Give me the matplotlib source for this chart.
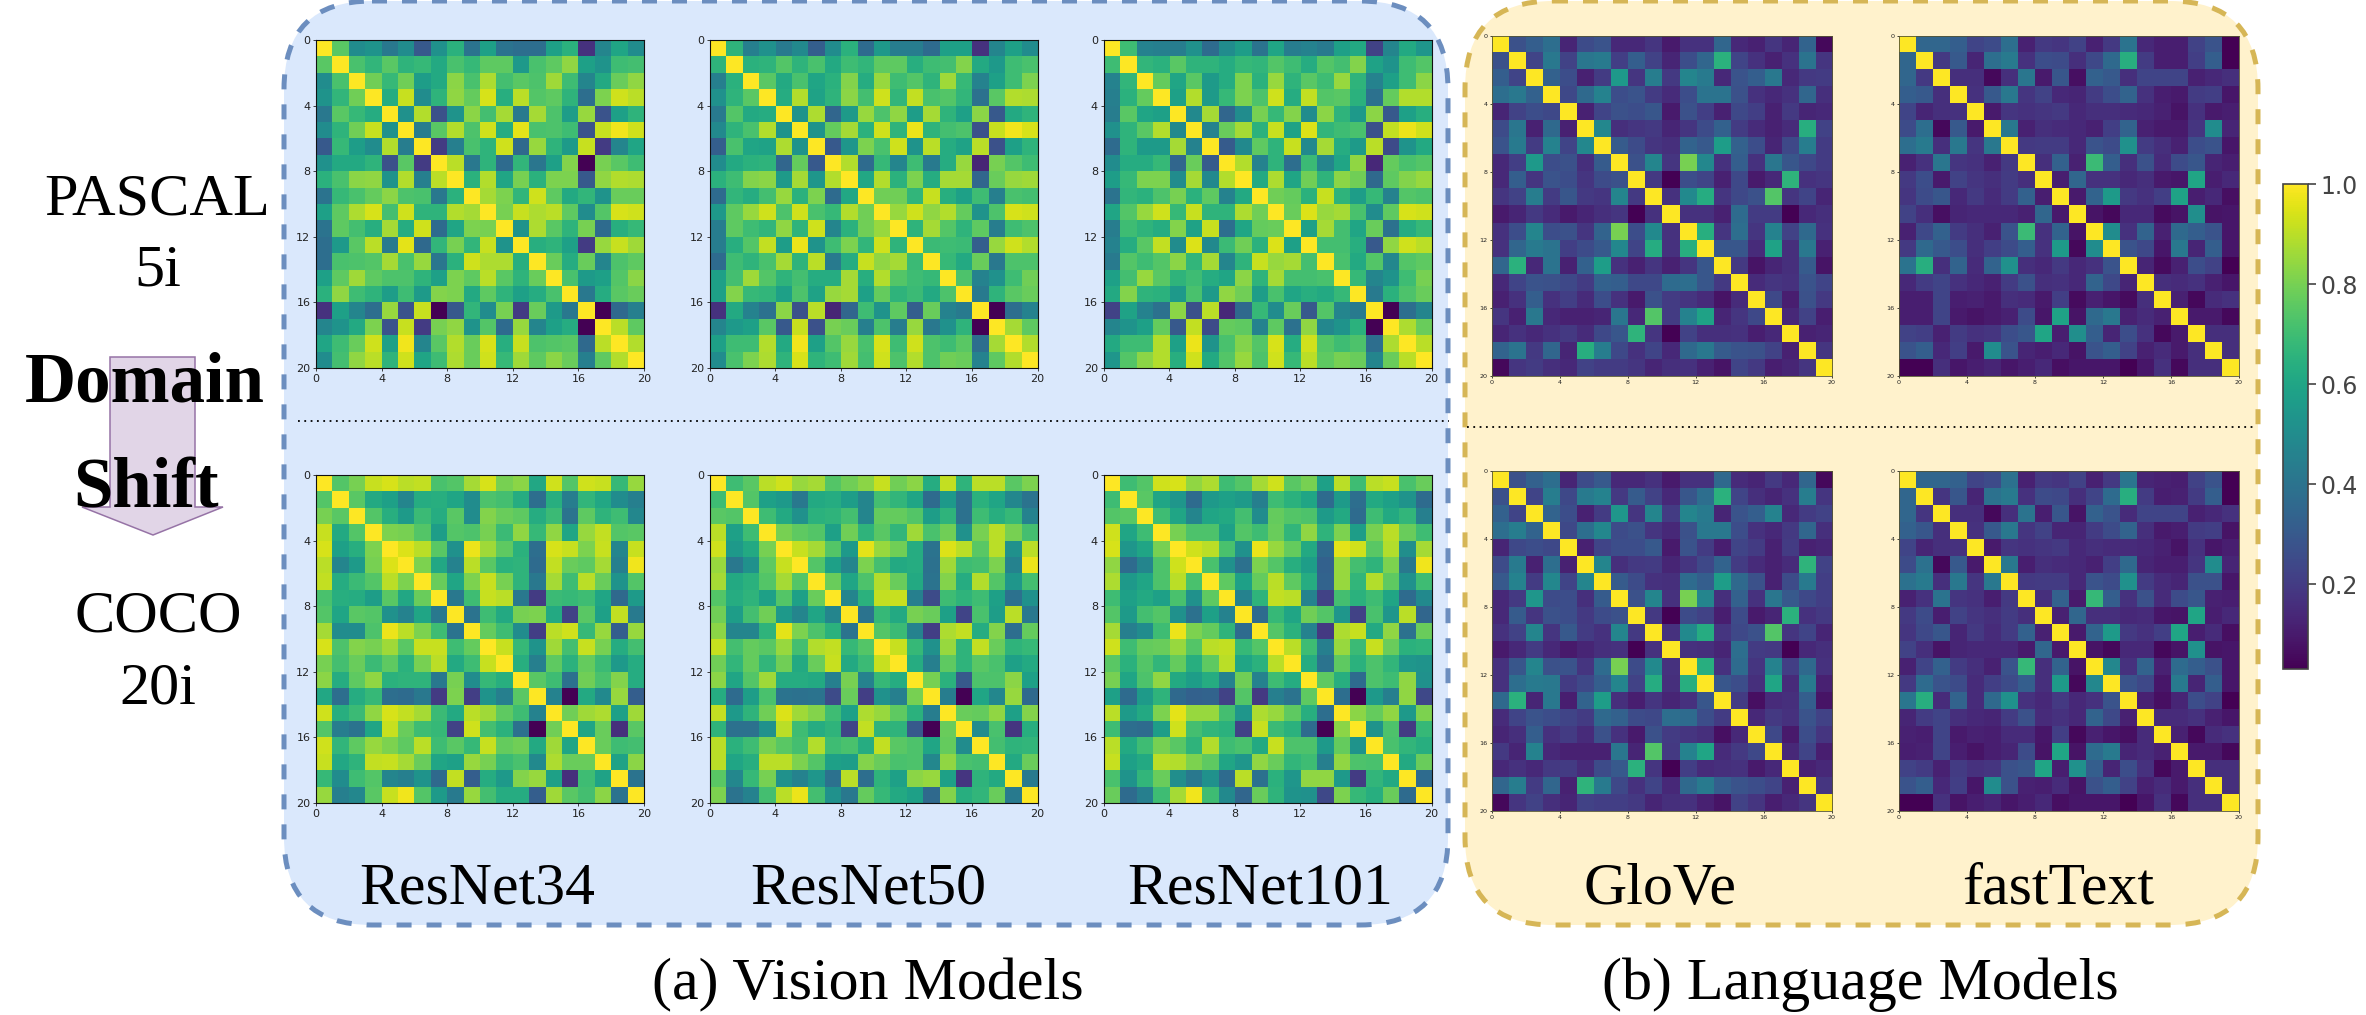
import numpy as np
import matplotlib
matplotlib.use("Agg")
import matplotlib.pyplot as plt
from matplotlib.patches import FancyBboxPatch, Polygon
from matplotlib.cm import ScalarMappable
from matplotlib.colors import Normalize

W, H = 2366, 1015
VMIN, VMAX = 0.03, 1.0

# Upper triangles (above the diagonal) of the similarity matrices; diagonal is 1.
resnet34_pascal = [
[.75,.50,.53,.42,.50,.30,.52,.65,.40,.58,.40,.38,.38,.58,.65,.17,.47,.60,.50],
[.72,.67,.75,.66,.68,.62,.72,.68,.76,.76,.55,.72,.76,.84,.58,.53,.70,.71],
[.79,.68,.79,.57,.62,.83,.72,.88,.71,.75,.73,.86,.70,.47,.62,.78,.84],
[.63,.92,.50,.66,.84,.77,.94,.64,.90,.74,.76,.66,.38,.81,.93,.90],
[.52,.89,.27,.53,.83,.71,.87,.43,.87,.73,.57,.85,.28,.58,.66],
[.44,.75,.89,.73,.93,.63,.96,.72,.73,.70,.28,.92,.98,.93],
[.20,.45,.72,.66,.93,.36,.85,.66,.56,.92,.20,.47,.60],
[.90,.42,.66,.37,.67,.41,.58,.82,.03,.80,.75,.70],
[.65,.89,.60,.80,.65,.81,.81,.30,.84,.89,.88],
[.87,.81,.67,.93,.76,.62,.67,.53,.78,.78],
[.80,.92,.88,.90,.76,.50,.74,.94,.93],
[.53,.88,.75,.66,.80,.37,.64,.68],
[.64,.66,.58,.20,.85,.92,.86],
[.78,.63,.78,.47,.73,.76],
[.72,.56,.58,.74,.83],
[.42,.63,.75,.78],
[.03,.36,.45],
[.90,.76],
[.89]]
resnet50_pascal = [
[.66,.45,.52,.43,.49,.32,.50,.65,.37,.55,.44,.44,.37,.58,.58,.17,.47,.58,.50],
[.65,.66,.74,.66,.72,.62,.70,.67,.76,.76,.64,.70,.71,.82,.62,.55,.70,.72],
[.75,.62,.72,.60,.65,.82,.63,.85,.70,.74,.66,.86,.68,.46,.58,.70,.81],
[.63,.89,.59,.66,.83,.71,.93,.67,.91,.72,.74,.67,.39,.75,.89,.88],
[.53,.88,.35,.56,.85,.73,.84,.57,.87,.66,.58,.83,.30,.62,.66],
[.53,.77,.87,.65,.93,.66,.97,.66,.71,.73,.27,.92,.98,.94],
[.30,.54,.81,.72,.93,.53,.90,.63,.59,.90,.27,.58,.66],
[.89,.37,.68,.47,.70,.43,.63,.85,.13,.80,.74,.70],
[.61,.89,.65,.81,.63,.87,.87,.35,.78,.85,.86],
[.79,.79,.67,.92,.64,.58,.70,.45,.72,.71],
[.85,.93,.84,.89,.77,.53,.73,.94,.93],
[.66,.87,.74,.66,.76,.44,.70,.73],
[.69,.70,.69,.32,.85,.93,.89],
[.68,.62,.78,.42,.73,.73],
[.73,.46,.52,.70,.79],
[.43,.66,.75,.78],
[.03,.38,.46],
[.87,.76],
[.89]]
resnet101_pascal = [
[.70,.46,.45,.44,.52,.37,.50,.57,.40,.60,.44,.46,.43,.58,.62,.22,.47,.62,.54],
[.67,.65,.75,.66,.66,.63,.68,.67,.74,.70,.63,.74,.71,.82,.59,.53,.70,.74],
[.77,.60,.75,.56,.63,.81,.65,.85,.66,.75,.70,.85,.66,.46,.58,.70,.83],
[.58,.89,.56,.68,.81,.73,.93,.63,.91,.74,.75,.65,.39,.77,.89,.89],
[.49,.87,.35,.50,.80,.68,.82,.50,.83,.66,.55,.83,.30,.58,.64],
[.46,.78,.87,.65,.92,.59,.95,.67,.70,.72,.27,.91,.97,.93],
[.31,.49,.76,.66,.92,.49,.87,.63,.56,.90,.25,.53,.62],
[.89,.46,.66,.38,.69,.47,.60,.84,.14,.77,.72,.74],
[.62,.88,.60,.79,.66,.83,.79,.36,.76,.82,.85],
[.79,.77,.65,.92,.66,.57,.68,.46,.74,.73],
[.78,.95,.85,.87,.72,.50,.76,.94,.93],
[.58,.87,.71,.60,.78,.39,.63,.68],
[.71,.71,.64,.30,.84,.93,.90],
[.72,.62,.74,.48,.74,.76],
[.68,.47,.53,.70,.80],
[.43,.65,.73,.78],
[.03,.38,.47],
[.88,.78],
[.90]]
resnet34_coco = [
[.74,.80,.92,.94,.90,.91,.72,.74,.87,.94,.80,.83,.61,.93,.74,.93,.92,.68,.85],
[.75,.62,.58,.47,.63,.64,.60,.50,.73,.71,.63,.38,.64,.44,.67,.61,.50,.45],
[.74,.64,.56,.69,.63,.75,.50,.82,.78,.76,.63,.69,.40,.76,.66,.70,.48],
[.81,.80,.74,.57,.74,.73,.80,.69,.84,.68,.84,.60,.85,.91,.74,.75],
[.95,.90,.75,.52,.97,.86,.76,.65,.38,.94,.92,.81,.92,.47,.92],
[.81,.61,.46,.90,.75,.65,.66,.37,.91,.78,.76,.87,.45,.98],
[.78,.60,.81,.92,.80,.66,.42,.87,.70,.90,.78,.53,.74],
[.42,.70,.92,.90,.42,.20,.69,.68,.70,.60,.36,.56],
[.40,.70,.62,.80,.81,.62,.22,.75,.58,.91,.43],
[.77,.70,.50,.21,.90,.93,.68,.85,.32,.85],
[.92,.68,.53,.86,.71,.92,.80,.63,.71],
[.64,.45,.76,.65,.77,.69,.55,.63],
[.75,.70,.39,.79,.72,.82,.63],
[.46,.03,.62,.49,.85,.32],
[.79,.86,.88,.58,.86],
[.60,.78,.16,.75],
[.78,.70,.71],
[.59,.83],
[.40]]
resnet50_coco = [
[.70,.75,.90,.93,.85,.87,.74,.79,.83,.92,.79,.83,.63,.91,.66,.90,.90,.75,.81],
[.74,.58,.55,.42,.62,.63,.57,.47,.71,.67,.60,.37,.55,.39,.65,.60,.48,.40],
[.70,.62,.52,.65,.66,.71,.47,.77,.77,.74,.57,.66,.39,.70,.64,.68,.46],
[.80,.76,.74,.58,.79,.66,.75,.67,.86,.72,.79,.52,.80,.90,.80,.71],
[.92,.87,.74,.55,.96,.85,.79,.63,.40,.95,.90,.75,.90,.52,.90],
[.74,.58,.47,.81,.71,.62,.63,.39,.86,.70,.71,.81,.46,.97],
[.78,.60,.73,.89,.78,.62,.40,.82,.63,.89,.74,.54,.71],
[.47,.65,.91,.92,.45,.25,.70,.66,.70,.58,.39,.52],
[.40,.68,.62,.80,.78,.58,.23,.72,.57,.90,.42],
[.74,.69,.46,.21,.88,.91,.63,.82,.38,.77],
[.92,.68,.52,.85,.66,.91,.78,.66,.68],
[.63,.45,.76,.66,.75,.72,.58,.62],
[.80,.65,.30,.73,.73,.83,.58],
[.44,.03,.60,.48,.85,.36],
[.78,.77,.84,.58,.82],
[.50,.72,.18,.64],
[.71,.66,.67],
[.62,.78],
[.43]]
resnet101_coco = [
[.70,.74,.93,.94,.84,.88,.70,.74,.87,.93,.75,.80,.58,.90,.70,.90,.92,.72,.78],
[.75,.60,.54,.37,.55,.58,.56,.45,.70,.65,.60,.37,.56,.38,.62,.58,.53,.37],
[.70,.60,.47,.60,.62,.71,.50,.77,.74,.73,.56,.62,.37,.70,.62,.67,.45],
[.80,.73,.73,.58,.74,.70,.78,.67,.84,.66,.81,.57,.80,.90,.78,.70],
[.93,.90,.72,.52,.97,.85,.77,.62,.36,.96,.93,.75,.89,.51,.87],
[.72,.52,.39,.81,.74,.64,.57,.33,.85,.71,.66,.81,.42,.98],
[.76,.58,.77,.90,.76,.63,.34,.85,.67,.89,.76,.52,.70],
[.46,.66,.91,.90,.46,.22,.71,.65,.70,.60,.37,.49],
[.37,.68,.60,.79,.74,.54,.22,.72,.54,.90,.35],
[.74,.65,.46,.19,.88,.92,.62,.84,.39,.78],
[.90,.70,.45,.85,.69,.92,.78,.65,.66],
[.63,.40,.76,.65,.73,.67,.54,.53],
[.76,.64,.37,.73,.70,.84,.52],
[.38,.03,.55,.45,.84,.24],
[.83,.77,.84,.55,.81],
[.53,.73,.20,.68],
[.72,.67,.64],
[.62,.78],
[.37]]
glove_pascal = [
[.27,.32,.38,.13,.25,.28,.14,.14,.18,.10,.17,.17,.35,.14,.12,.18,.13,.34,.05],
[.23,.42,.22,.41,.43,.21,.32,.22,.13,.26,.35,.65,.23,.17,.12,.17,.40,.18],
[.33,.26,.12,.20,.55,.18,.44,.19,.47,.43,.14,.28,.32,.42,.14,.19,.20],
[.24,.36,.46,.26,.28,.20,.15,.26,.40,.40,.27,.17,.14,.17,.35,.16],
[.12,.23,.27,.26,.29,.10,.27,.21,.12,.24,.21,.12,.19,.13,.14],
[.48,.16,.18,.19,.13,.18,.25,.33,.20,.15,.12,.15,.64,.22],
[.31,.25,.18,.16,.34,.30,.57,.33,.26,.13,.24,.44,.20],
[.27,.47,.18,.80,.48,.17,.32,.17,.41,.29,.24,.20],
[.19,.03,.26,.23,.12,.24,.10,.14,.66,.17,.18],
[.17,.49,.63,.18,.24,.27,.74,.18,.23,.13],
[.17,.17,.12,.37,.20,.20,.03,.14,.16],
[.64,.18,.38,.18,.46,.22,.36,.17],
[.29,.29,.15,.59,.16,.42,.12],
[.19,.08,.13,.16,.31,.08],
[.15,.18,.17,.28,.23],
[.24,.11,.27,.19],
[.14,.22,.11],
[.12,.13],
[.18]]
fasttext_pascal = [
[.35,.35,.32,.23,.25,.38,.12,.19,.18,.22,.12,.19,.40,.14,.11,.11,.22,.28,.03],
[.19,.30,.13,.38,.43,.17,.26,.25,.16,.24,.36,.64,.20,.11,.11,.21,.32,.03],
[.16,.16,.05,.16,.41,.10,.29,.07,.33,.30,.16,.23,.23,.23,.12,.14,.16],
[.17,.30,.42,.18,.22,.14,.13,.20,.26,.34,.17,.11,.10,.20,.21,.09],
[.10,.18,.17,.18,.19,.14,.16,.16,.15,.14,.12,.08,.17,.10,.11],
[.42,.12,.16,.15,.14,.12,.21,.34,.12,.10,.10,.18,.50,.13],
[.19,.20,.20,.14,.28,.25,.52,.20,.16,.12,.26,.28,.09],
[.16,.33,.12,.69,.32,.16,.27,.15,.25,.29,.13,.11],
[.11,.35,.17,.17,.14,.16,.10,.09,.60,.11,.14],
[.10,.34,.56,.19,.17,.21,.59,.11,.14,.07],
[.08,.05,.14,.14,.06,.08,.51,.08,.09],
[.50,.17,.34,.12,.36,.32,.28,.09],
[.28,.24,.09,.42,.13,.32,.09],
[.13,.06,.12,.26,.22,.03],
[.16,.15,.17,.12,.09],
[.12,.05,.15,.17],
[.10,.10,.05],
[.16,.16],
[.16]]
glove_coco = [
[.27,.33,.38,.13,.25,.30,.14,.14,.17,.10,.17,.17,.36,.15,.13,.19,.14,.35,.05],
[.23,.44,.24,.43,.46,.19,.31,.22,.14,.29,.38,.65,.23,.16,.13,.17,.44,.18],
[.34,.26,.12,.20,.54,.18,.47,.20,.47,.43,.13,.28,.32,.46,.14,.20,.22],
[.24,.38,.48,.25,.27,.18,.14,.27,.42,.42,.26,.17,.14,.19,.35,.16],
[.12,.23,.26,.26,.30,.10,.28,.20,.11,.23,.20,.12,.20,.12,.13],
[.47,.16,.19,.20,.13,.18,.24,.34,.20,.15,.12,.15,.66,.22],
[.31,.25,.17,.16,.37,.32,.57,.36,.27,.12,.25,.43,.21],
[.27,.47,.17,.80,.47,.16,.33,.17,.41,.30,.24,.21],
[.19,.03,.25,.22,.11,.25,.10,.13,.65,.17,.19],
[.17,.49,.63,.18,.24,.27,.74,.18,.23,.13],
[.17,.16,.13,.38,.20,.19,.03,.14,.16],
[.64,.17,.37,.18,.46,.21,.36,.17],
[.29,.26,.16,.60,.15,.43,.12],
[.20,.07,.15,.16,.32,.08],
[.14,.19,.17,.28,.22],
[.24,.10,.26,.18],
[.14,.23,.11],
[.12,.14],
[.18]]
fasttext_coco = [
[.35,.35,.33,.23,.25,.39,.12,.19,.18,.22,.12,.19,.41,.13,.12,.11,.22,.28,.03],
[.18,.29,.13,.39,.43,.17,.25,.24,.16,.23,.37,.64,.20,.11,.12,.20,.32,.03],
[.16,.16,.05,.16,.40,.11,.29,.08,.33,.28,.15,.23,.23,.23,.12,.14,.17],
[.17,.30,.42,.18,.22,.13,.13,.20,.25,.34,.16,.10,.11,.20,.21,.08],
[.10,.18,.17,.18,.19,.14,.16,.15,.15,.14,.12,.08,.17,.09,.11],
[.42,.11,.16,.15,.14,.12,.21,.36,.13,.11,.11,.18,.50,.13],
[.19,.20,.20,.14,.28,.25,.52,.20,.15,.13,.27,.27,.09],
[.16,.33,.10,.68,.32,.17,.27,.15,.25,.29,.12,.11],
[.12,.35,.16,.16,.14,.15,.09,.08,.60,.11,.14],
[.10,.34,.56,.19,.17,.21,.60,.11,.15,.07],
[.08,.05,.14,.14,.05,.08,.52,.08,.09],
[.48,.17,.34,.12,.37,.32,.27,.09],
[.28,.24,.09,.43,.13,.32,.09],
[.12,.07,.13,.26,.22,.03],
[.15,.15,.17,.12,.09],
[.12,.05,.15,.17],
[.10,.10,.05],
[.16,.16],
[.16]]

tick_values = [0, 4, 8, 12, 16, 20]
cbar_ticks = [0.2, 0.4, 0.6, 0.8, 1.0]
column_labels = ["ResNet34", "ResNet50", "ResNet101", "GloVe", "fastText"]


def sym(upper):
    n = len(upper) + 1
    m = np.eye(n)
    for i, row in enumerate(upper):
        if len(row) != n - 1 - i:
            print("BAD ROW", i, len(row))
        for j, v in enumerate(row):
            m[i, i + 1 + j] = v
            m[i + 1 + j, i] = v
    return m


fig = plt.figure(figsize=(W / 100, H / 100), dpi=100, facecolor="white")
bg = fig.add_axes([0, 0, 1, 1])
bg.set_xlim(0, W)
bg.set_ylim(H, 0)
bg.axis("off")


def panel(x0, y0, x1, y1, face, edge):
    bg.add_patch(FancyBboxPatch((x0, y0), x1 - x0, y1 - y0,
                                boxstyle="round,pad=0,rounding_size=88",
                                facecolor=face, edgecolor=edge, linewidth=3.6,
                                linestyle=(0, (3.0, 3.0)), capstyle="butt", zorder=1))


panel(284, 1, 1448, 925, "#DAE8FC", "#6C8EBF")
panel(1465, 1, 2258, 925, "#FFF2CC", "#D6B656")

dotted = (0, (1, 2.5))
bg.plot([298, 1449], [421, 421], color="black", lw=1.3, ls=dotted, zorder=2)
bg.plot([1467, 2255], [427, 427], color="black", lw=1.3, ls=dotted, zorder=2)

# Arrow
bg.add_patch(Polygon([(110, 357), (195, 357), (195, 507), (223, 507), (153, 535), (82, 507), (110, 507)],
                     closed=True, facecolor="#E1D5E7", edgecolor="#9673A6", linewidth=1.1, zorder=2))

SERIF = "Liberation Serif"


def label(x, y, s, size, weight="normal"):
    bg.text(x, y, s, family=SERIF, fontsize=size, fontweight=weight, ha="center",
            va="baseline", color="black", zorder=5)


label(157, 214, "PASCAL", 43.4)
label(158, 285, "5i", 43.4)
label(145, 402, "Domain", 51, "bold")
label(146, 507, "Shift", 51, "bold")
label(158, 632, "COCO", 43.4)
label(158, 703, "20i", 43.4)
for cx, s in zip([477, 868, 1260, 1660, 2058], column_labels):
    label(cx, 904, s, 43)
label(868, 999, "(a) Vision Models", 43.2)
label(1860, 999, "(b) Language Models", 43.2)


def heat(data, x0, y0, size, tick_fs, tick_len, spine_lw, spine_col):
    ax = fig.add_axes([x0 / W, 1 - (y0 + size) / H, size / W, size / H])
    ax.imshow(sym(data), cmap="viridis", vmin=VMIN, vmax=VMAX, extent=[0, 20, 20, 0],
              interpolation="nearest", aspect="equal")
    ax.set_xticks(tick_values)
    ax.set_yticks(tick_values)
    ax.tick_params(labelsize=tick_fs, length=tick_len, width=0.6, pad=1.5, colors="#222222")
    for s in ax.spines.values():
        s.set_linewidth(spine_lw)
        s.set_color(spine_col)
    return ax


vision = [(316, resnet34_pascal, resnet34_coco), (709.5, resnet50_pascal, resnet50_coco),
          (1103.5, resnet101_pascal, resnet101_coco)]
for x0, p, c in vision:
    heat(p, x0, 40, 328, 8, 2.5, 0.8, "#111111")
    heat(c, x0, 475, 328, 8, 2.5, 0.8, "#111111")

language = [(1491.5, glove_pascal, glove_coco), (1899, fasttext_pascal, fasttext_coco)]
for x0, p, c in language:
    heat(p, x0, 36, 340, 4.6, 1.5, 0.6, "#555533")
    heat(c, x0, 471, 340, 4.6, 1.5, 0.6, "#555533")

# Colour bar
cax = fig.add_axes([2283 / W, 1 - 669 / H, 25 / W, 485 / H])
cb = fig.colorbar(ScalarMappable(Normalize(VMIN, VMAX), "viridis"), cax=cax, ticks=cbar_ticks)
cb.ax.tick_params(labelsize=17, length=6, width=1.2, colors="#444444", pad=3)
cb.outline.set_edgecolor("#444444")
cb.outline.set_linewidth(1.2)

fig.savefig("out.png", dpi=100, facecolor="white")
